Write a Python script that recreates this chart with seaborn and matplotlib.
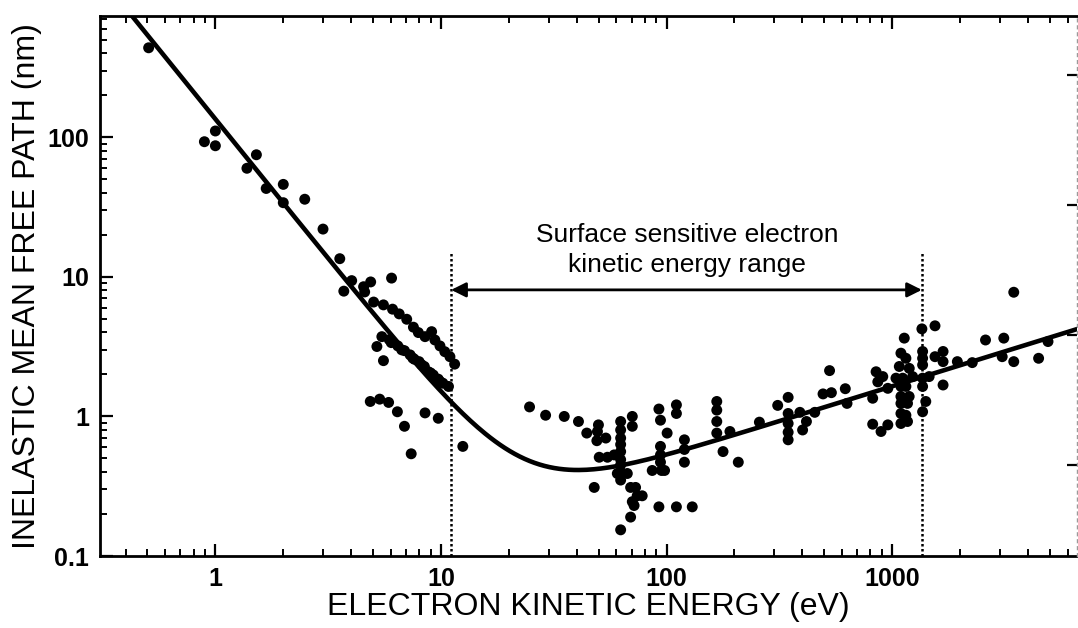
import numpy as np
import pandas as pd
import matplotlib
matplotlib.use("Agg")
import matplotlib.pyplot as plt
import seaborn as sns
from matplotlib.ticker import LogLocator, NullFormatter, FixedLocator, FixedFormatter

# ---------------- data ----------------
energy_low = [0.506, 0.894, 1.0, 1.0, 1.38, 1.52, 1.68, 2.0, 2.0, 2.49, 3.0, 3.56, 3.71,
              4.02, 4.54, 4.88, 6.04, 5.03, 4.59, 5.2, 5.56]
imfp_low = [438, 93, 111, 87, 60, 75, 43, 46, 34, 36, 22, 13.5, 7.9,
            9.4, 8.5, 9.2, 9.8, 6.6, 7.8, 3.17, 2.51]

energy_band_upper = [5.56, 6.10, 6.53, 7.05, 7.55, 7.94, 8.5, 9.09, 9.4, 9.9, 10.4, 10.96, 11.5]
imfp_band_upper = [6.3, 5.87, 5.43, 4.97, 4.36, 3.99, 3.73, 4.05, 3.53, 3.2, 2.91, 2.68, 2.37]

energy_band_lower = [5.47, 6.02, 6.44, 6.89, 7.3, 7.62, 8.0, 8.44, 8.79, 9.25, 9.73, 10.2, 10.8,
                     5.9, 6.7, 7.5, 8.2, 9.0, 9.9]
imfp_band_lower = [3.73, 3.38, 3.2, 2.96, 2.76, 2.57, 2.47, 2.28, 2.09, 1.98, 1.85, 1.73, 1.64,
                   3.55, 3.0, 2.62, 2.35, 2.05, 1.78]

energy_scatter_low = [4.86, 5.35, 5.86, 6.41, 6.89, 7.38, 8.5, 9.73, 12.5]
imfp_scatter_low = [1.28, 1.33, 1.26, 1.08, 0.85, 0.54, 1.06, 0.97, 0.61]

energy_mid = [24.7, 29.1, 35.2, 40.7, 44.3, 49.9, 49.4, 49.1, 53.8, 50.3, 54.7, 58.6, 47.8,
              62.6, 62.6, 62.6, 62.6, 62.6, 62.6, 62.6, 62.6, 62.6,
              60.5, 67.0, 70.5, 70.5,
              69.3, 72.9, 74.1, 78.0, 70.5, 71.8, 69.3, 62.6,
              86.4, 92.5, 92.5, 94.0, 100.6, 94.0, 94.0, 94.0, 95.0, 98.0,
              110.6, 110.6, 110.6, 120, 120, 120, 130,
              167, 167, 167, 167, 178, 191, 208]
imfp_mid = [1.17, 1.02, 1.0, 0.92, 0.76, 0.87, 0.78, 0.67, 0.70, 0.51, 0.51, 0.53, 0.31,
            0.92, 0.80, 0.70, 0.63, 0.56, 0.49, 0.45, 0.40, 0.35,
            0.39, 0.39, 1.0, 0.85,
            0.31, 0.31, 0.27, 0.27, 0.245, 0.23, 0.19, 0.154,
            0.41, 0.225, 1.13, 0.94, 0.76, 0.61, 0.53, 0.47, 0.41, 0.41,
            1.21, 1.05, 0.225, 0.68, 0.58, 0.47, 0.225,
            1.28, 1.11, 0.92, 0.76, 0.56, 0.78, 0.47]

energy_high = [258, 311, 346, 346, 346, 346, 346, 390, 417, 401, 454, 494, 538, 528, 620, 631,
               820, 820, 893, 957, 849, 864, 909, 957, 1076, 1040, 1114,
               1094, 1151, 1132, 1094, 1151, 1094, 1190, 1094, 1170, 1094, 1151, 1094, 1170,
               1191, 1233, 1355, 1365, 1365, 1365, 1365, 1365, 1410, 1365,
               1549, 1459, 1549, 1682, 1682, 1682, 1946, 2266, 2594, 3126, 3076, 3461, 3461,
               4460, 4909]
imfp_high = [0.91, 1.2, 1.37, 1.05, 0.89, 0.77, 0.68, 1.07, 0.92, 0.80, 1.07, 1.45, 1.48, 2.13, 1.58, 1.24,
             1.35, 0.88, 0.78, 0.87, 2.09, 1.77, 1.93, 1.59, 2.28, 1.88, 1.88,
             2.84, 2.61, 3.64, 1.64, 1.64, 1.39, 1.39, 1.24, 1.24, 1.05, 1.02, 0.89, 0.92,
             2.21, 1.93, 4.24, 2.92, 2.61, 2.34, 1.88, 1.64, 1.28, 1.08,
             4.46, 1.93, 2.68, 2.92, 2.47, 1.68, 2.47, 2.43, 3.53, 3.64, 2.68, 7.76, 2.47,
             2.61, 3.44]

# universal-curve parameters read from the drawn fit:  lambda = A/E^2 + B*sqrt(E)
curve_A = 135.0
curve_B = 0.052
curve_energy = np.logspace(np.log10(0.3), np.log10(7000), 400)

range_low, range_high = 11.1, 1355.0

x_ticks = [1, 10, 100, 1000]
x_tick_labels = ["1", "10", "100", "1000"]
y_ticks = [0.1, 1, 10, 100]
y_tick_labels = ["0.1", "1", "10", "100"]

annot_text = "Surface sensitive electron\nkinetic energy range"
x_label = "ELECTRON KINETIC ENERGY (eV)"
y_label = "INELASTIC MEAN FREE PATH (nm)"

# ---------------- build frames ----------------
pts = pd.DataFrame({
    "energy": energy_low + energy_band_upper + energy_band_lower + energy_scatter_low + energy_mid + energy_high,
    "imfp": imfp_low + imfp_band_upper + imfp_band_lower + imfp_scatter_low + imfp_mid + imfp_high,
})
curve = pd.DataFrame({"energy": curve_energy,
                      "imfp": curve_A / curve_energy**2 + curve_B * np.sqrt(curve_energy)})

# ---------------- plot ----------------
sns.set_theme(style="ticks")
plt.rcParams["font.family"] = ["Liberation Sans", "DejaVu Sans"]
plt.rcParams["text.color"] = "black"
plt.rcParams["axes.labelcolor"] = "black"
plt.rcParams["xtick.color"] = "black"
plt.rcParams["ytick.color"] = "black"

fig = plt.figure(figsize=(10.78, 6.28), dpi=100)
ax = fig.add_axes([100 / 1078, 72 / 628, 977 / 1078, 540 / 628])

sns.lineplot(data=curve, x="energy", y="imfp", ax=ax, color="black", linewidth=3.3, zorder=3)
sns.scatterplot(data=pts, x="energy", y="imfp", ax=ax, color="black", s=62, edgecolor="none", zorder=4)

ax.set_xscale("log")
ax.set_yscale("log")
ax.set_xlim(0.308, 6600)
ax.set_ylim(0.1, 740)

# vertical dotted range lines + arrow + annotation
ax.plot([range_low, range_low], [0.1, 15.0], color="black", linestyle=(0, (1, 1)), linewidth=1.8, zorder=2)
ax.plot([range_high, range_high], [0.1, 15.0], color="black", linestyle=(0, (1, 1)), linewidth=1.8, zorder=2)
ax.annotate("", xy=(range_low, 8.07), xytext=(range_high, 8.07),
            arrowprops=dict(arrowstyle="<|-|>", color="black", lw=2.0,
                            mutation_scale=22, shrinkA=0, shrinkB=0))
ax.text(123, 15.5, annot_text, ha="center", va="center", fontsize=19, color="black",
        family=["Liberation Sans", "DejaVu Sans"], linespacing=1.3)

# ticks
ax.xaxis.set_major_locator(FixedLocator(x_ticks))
ax.xaxis.set_major_formatter(FixedFormatter(x_tick_labels))
ax.xaxis.set_minor_locator(LogLocator(base=10, subs=np.arange(2, 10), numticks=20))
ax.xaxis.set_minor_formatter(NullFormatter())
ax.yaxis.set_major_locator(FixedLocator(y_ticks))
ax.yaxis.set_major_formatter(FixedFormatter(y_tick_labels))
ax.yaxis.set_minor_locator(LogLocator(base=10, subs=np.arange(2, 10), numticks=20))
ax.yaxis.set_minor_formatter(NullFormatter())

ax.tick_params(which="major", direction="in", length=9, width=1.6, top=True, right=False,
               labelsize=18, pad=8, colors="black")
ax.tick_params(which="minor", direction="in", length=5, width=1.4, top=True, right=False)
for lab in ax.get_xticklabels() + ax.get_yticklabels():
    lab.set_fontweight("bold")

for side in ["left", "bottom", "top"]:
    ax.spines[side].set_linewidth(2.0)
    ax.spines[side].set_color("black")
ax.spines["right"].set_visible(False)

ax.set_xlabel(x_label, fontsize=23, color="black", labelpad=1)
ax.set_ylabel(y_label, fontsize=23, color="black", labelpad=4)

# faint right-hand axis of the original figure
ax2 = ax.twinx()
ax2.set_ylim(0, 1)
ax2.set_yticks([0.169, 0.409, 0.65, 0.891])
ax2.set_yticklabels([])
ax2.tick_params(axis="y", direction="in", length=7, width=1.6, colors="black", right=True)
ax2.spines["right"].set_color("#9a9a9a")
ax2.spines["right"].set_linestyle((0, (2, 3)))
ax2.spines["right"].set_linewidth(1.0)
for side in ["left", "bottom", "top"]:
    ax2.spines[side].set_visible(False)

fig.savefig("out.png", dpi=100)
